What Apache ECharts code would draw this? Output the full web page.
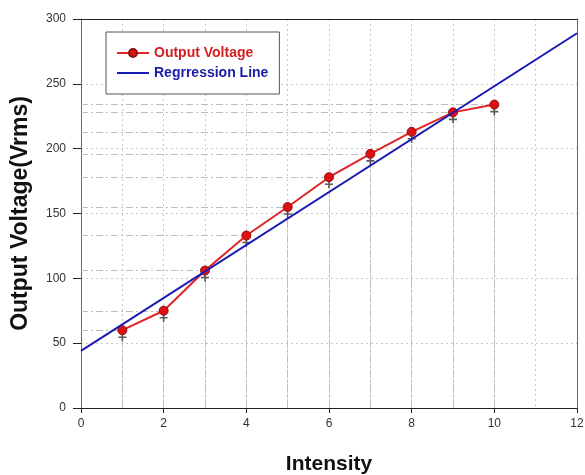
<!DOCTYPE html>
<html>
<head>
<meta charset="utf-8">
<script src="https://cdn.jsdelivr.net/npm/echarts@6/dist/echarts.min.js"></script>
<style>
  html, body { margin: 0; padding: 0; background: #fff; }
  #chart { width: 585px; height: 475px; }
</style>
</head>
<body>
<div id="chart"></div>
<script>
// Measured output voltage against light intensity
const intensity = [1, 2, 3, 4, 5, 6, 7, 8, 9, 10];
const outputVoltage = [60, 75, 106, 133, 155, 178, 196, 213, 228, 234];
// Fitted regression line endpoints (intensity, voltage)
const regressionX = [0, 12];
const regressionY = [44, 289];

const font = 'Liberation Sans, Arial, sans-serif';
const measured = intensity.map((x, i) => [x, outputVoltage[i]]);
const fitted = regressionX.map((x, i) => [x, regressionY[i]]);

// Guide lines from each measurement to both axes
const guides = [];
measured.forEach(([x, y]) => {
  guides.push([{ coord: [0, y] }, { coord: [x, y] }]);
  guides.push([{ coord: [x, 0] }, { coord: [x, y] }]);
});

const crossPath = 'path://M4,0h2v4h4v2h-4v4h-2v-4h-4v-2h4z';
const gridDots = { color: '#c8c8c8', type: [2, 3], width: 1 };

const chart = echarts.init(document.getElementById('chart'), null, { renderer: 'canvas' });
chart.setOption({
  animation: false,
  backgroundColor: '#fff',
  grid: { left: 81, right: 8, top: 19, bottom: 67, containLabel: false, outerBoundsMode: 'none' },
  legend: {
    left: 106, top: 32,
    orient: 'vertical',
    backgroundColor: '#fff',
    borderColor: '#555',
    borderWidth: 1,
    padding: [14, 11, 14, 10],
    itemGap: 6,
    itemWidth: 32,
    itemHeight: 10,
    textStyle: { fontFamily: font, fontSize: 14, fontWeight: 'bold' },
    data: [
      { name: 'Output Voltage', textStyle: { color: '#d42020' } },
      { name: 'Regrression Line', textStyle: { color: '#1a1aa8' }, itemStyle: { opacity: 0 } }
    ]
  },
  xAxis: [{
    type: 'value', min: 0, max: 12, interval: 2,
    name: 'Intensity', nameLocation: 'middle', nameGap: 46,
    nameTextStyle: { fontFamily: font, fontSize: 21, fontWeight: 'bold', color: '#111' },
    axisLine: { show: true, onZero: false, lineStyle: { color: '#222', width: 1 } },
    axisTick: { show: true, length: 5, lineStyle: { color: '#222' } },
    axisLabel: { fontFamily: font, fontSize: 12, color: '#333', margin: 10 },
    splitLine: { show: false }
  }, {
    type: 'value', min: 0, max: 12, interval: 1, position: 'bottom',
    axisLine: { show: false }, axisTick: { show: false }, axisLabel: { show: false },
    splitLine: { show: true, lineStyle: gridDots }
  }, {
    type: 'value', min: 0, max: 12, position: 'top',
    axisLine: { show: true, onZero: false, lineStyle: { color: '#222', width: 1 } },
    axisTick: { show: false }, axisLabel: { show: false }, splitLine: { show: false }
  }],
  yAxis: [{
    type: 'value', min: 0, max: 300, interval: 50,
    name: 'Output Voltage(Vrms)', nameLocation: 'middle', nameGap: 49,
    nameTextStyle: { fontFamily: font, fontSize: 23, fontWeight: 'bold', color: '#111' },
    axisLine: { show: true, onZero: false, lineStyle: { color: '#b04848', width: 1 } },
    axisTick: { show: true, length: 8, lineStyle: { color: '#222' } },
    axisLabel: { fontFamily: font, fontSize: 12, color: '#333', margin: 15 },
    splitLine: { show: true, lineStyle: gridDots }
  }, {
    type: 'value', min: 0, max: 300, position: 'right',
    axisLine: { show: true, onZero: false, lineStyle: { color: '#c04040', width: 1 } },
    axisTick: { show: false }, axisLabel: { show: false }, splitLine: { show: false }
  }],
  series: [{
    name: 'Output Voltage',
    type: 'line',
    data: measured,
    z: 4,
    symbol: 'circle',
    symbolSize: 9,
    itemStyle: { color: '#e01010', borderColor: '#8a1010', borderWidth: 1 },
    lineStyle: { color: '#e02424', width: 2 },
    markLine: {
      silent: true,
      symbol: 'none',
      label: { show: false },
      lineStyle: { color: '#bdbdbd', type: [7, 3, 2, 3], width: 1 },
      data: guides,
      z: 1
    }
  }, {
    name: 'Output Voltage',
    type: 'scatter',
    data: measured,
    z: 3,
    symbol: crossPath,
    symbolSize: 8,
    symbolOffset: [0, 7],
    itemStyle: { color: '#333' }
  }, {
    name: 'Regrression Line',
    type: 'line',
    data: fitted,
    z: 5,
    symbol: 'none',
    lineStyle: { color: '#1a1ab4', width: 2 }
  }]
});
</script>
</body>
</html>
